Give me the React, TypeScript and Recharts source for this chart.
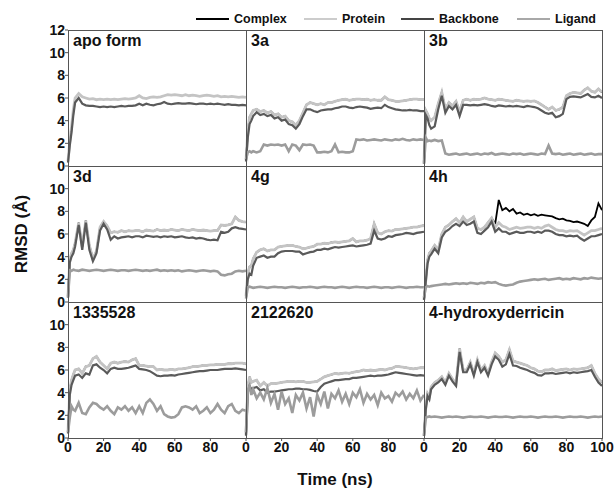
import { LineChart, Line, XAxis, YAxis } from 'recharts';

// sampling times (ns)
const time = [
  0, 1, 2, 3, 4, 6, 8, 10, 12, 14,
  16, 18, 20, 22, 24, 26, 28, 30, 32, 34,
  36, 38, 40, 42, 44, 46, 48, 50, 52, 54,
  56, 58, 60, 62, 64, 66, 68, 70, 72, 74,
  76, 78, 80, 82, 84, 86, 88, 90, 92, 94,
  96, 98, 100,
];

const xTicksShort = [0, 20, 40, 60, 80];
const xTicksLong = [0, 20, 40, 60, 80, 100];
const yTicksTop = [0, 2, 4, 6, 8, 10, 12];
const yTicks = [0, 2, 4, 6, 8, 10];

// apo form
const apoProtein = [
  0.4, 2.2, 3.5, 5.0, 6.0, 6.4, 6.1, 6.0, 5.9, 5.95,
  5.85, 5.9, 5.85, 5.9, 5.85, 5.9, 5.85, 5.9, 5.95, 5.9,
  5.95, 6.0, 6.2, 6.0, 5.95, 6.05, 6.1, 6.05, 6.1, 6.2,
  6.3, 6.25, 6.3, 6.25, 6.2, 6.3, 6.2, 6.25, 6.2, 6.15,
  6.2, 6.25, 6.2, 6.15, 6.2, 6.1, 6.15, 6.1, 6.15, 6.1,
  6.05, 6.1, 6.05,
];
const apoBackbone = [
  0.3, 1.8, 3.0, 4.5, 5.6, 6.0, 5.5, 5.35, 5.3, 5.3,
  5.25, 5.2, 5.25, 5.2, 5.25, 5.2, 5.25, 5.3, 5.25, 5.3,
  5.3, 5.35, 5.5, 5.35, 5.5, 5.4, 5.35, 5.45, 5.5, 5.65,
  5.5, 5.45, 5.5, 5.55, 5.5, 5.5, 5.55, 5.5, 5.45, 5.5,
  5.5, 5.45, 5.5, 5.45, 5.5, 5.45, 5.4, 5.45, 5.4, 5.4,
  5.35, 5.4, 5.35,
];

// 3a
const protein3a = [
  0.5, 3.0, 4.3, 4.6, 4.9, 5.0, 4.8, 4.9, 4.7, 4.8,
  4.5, 4.6, 4.3, 4.4, 4.0, 3.9, 3.6, 4.0, 4.7, 5.4,
  5.6, 5.5, 5.4, 5.5, 5.4, 5.6, 5.6, 5.7, 5.8, 5.85,
  5.9, 5.8, 5.85, 5.9, 5.9, 5.85, 5.9, 5.8, 5.85, 5.8,
  5.8, 6.1, 5.85, 5.8, 5.7, 5.7, 5.75, 5.8, 5.85, 5.9,
  5.9, 5.85, 5.85,
];
const backbone3a = [
  0.4, 2.5, 3.7, 4.0, 4.4, 4.75, 4.5, 4.6, 4.4, 4.5,
  4.2, 4.3, 4.0, 4.1, 3.7, 3.6, 3.3, 3.7, 4.4, 5.0,
  5.0, 4.85, 4.75, 4.9, 4.95, 5.0, 5.0, 5.1, 5.15, 5.25,
  5.25, 5.15, 5.1, 5.2, 5.25, 5.2, 5.15, 5.05, 5.1, 5.15,
  5.1, 5.4, 5.2, 5.1, 5.0, 4.95, 4.9, 4.9, 4.95, 4.9,
  4.9, 4.85, 4.85,
];
const complex3a = protein3a; // hidden under the protein trace
const ligand3a = [
  0.6, 1.2, 1.3, 1.2, 1.3, 1.2, 1.3, 1.9, 1.8, 1.9,
  1.85, 1.9, 1.8, 1.9, 1.3, 1.9, 1.8, 1.4, 1.9, 1.85,
  1.9, 1.8, 1.2, 1.2, 1.25, 1.2, 1.3, 1.9, 1.2, 1.25,
  1.2, 1.2, 1.3, 2.35, 2.3, 2.35, 2.25, 2.3, 2.35, 2.3,
  2.25, 2.35, 2.3, 2.25, 2.35, 2.3, 2.4, 2.3, 2.25, 2.35,
  2.3, 2.35, 2.3,
];

// 3b
const protein3b = [
  0.3, 4.9, 4.6, 4.2, 4.0, 4.3, 5.5, 6.5, 5.0, 5.6,
  5.3, 5.7, 4.8, 5.8, 5.9, 5.8, 5.9, 5.85, 5.9, 6.0,
  5.9, 5.85, 5.8, 5.9, 5.85, 5.8, 5.75, 5.7, 5.8, 5.75,
  5.7, 5.75, 5.7, 5.75, 5.6, 5.4, 5.2, 5.0, 5.2, 4.9,
  5.0, 5.2, 6.2, 6.4, 6.5, 6.45, 6.4, 6.7, 6.9, 6.6,
  6.5, 6.8, 6.5,
];
const backbone3b = [
  0.2, 4.5, 4.2, 3.6, 3.3, 3.5, 5.0, 6.2, 4.7, 5.3,
  5.0, 5.4, 4.4, 5.4, 5.4, 5.35, 5.4, 5.35, 5.4, 5.45,
  5.4, 5.3, 5.25, 5.35, 5.3, 5.25, 5.3, 5.25, 5.3, 5.25,
  5.2, 5.3, 5.25, 5.2, 5.1, 4.9, 4.7, 4.6, 4.7, 4.3,
  4.4, 4.6, 5.9, 6.1, 6.15, 6.1, 6.05, 6.2, 6.35, 6.1,
  6.05, 6.2, 6.0,
];
const complex3b = protein3b;
const ligand3b = [
  0.2, 2.5, 2.2, 2.25, 2.2, 2.3, 2.2, 2.25, 1.1, 1.0,
  1.05, 1.1, 1.0, 1.05, 1.1, 1.0, 1.05, 1.1, 1.0, 1.1,
  1.05, 1.15, 1.0, 1.05, 1.1, 1.05, 1.0, 1.1, 1.05, 1.1,
  1.0, 1.05, 1.1, 1.05, 1.0, 1.1, 1.05, 1.8, 1.1, 1.05,
  1.1, 1.0, 1.05, 1.1, 1.0, 1.05, 1.1, 1.0, 1.05, 1.1,
  1.0, 1.05, 1.05,
];

// 3d
const protein3d = [
  0.5, 3.7, 4.3, 4.6, 5.2, 7.0, 4.9, 7.2, 5.0, 3.8,
  4.5, 6.6, 7.1, 6.7, 6.1, 6.2, 6.15, 6.3, 6.2, 6.3,
  6.25, 6.3, 6.3, 6.2, 6.35, 6.3, 6.25, 6.4, 6.3, 6.35,
  6.3, 6.4, 6.35, 6.3, 6.4, 6.35, 6.3, 6.4, 6.35, 6.3,
  6.35, 6.3, 6.25, 6.3, 6.3, 6.8, 6.75, 6.8, 6.9, 7.5,
  7.2, 7.1, 7.05,
];
const backbone3d = [
  0.4, 3.5, 4.0, 4.3, 4.9, 6.8, 4.6, 7.0, 4.6, 3.6,
  4.3, 6.3, 6.9, 6.4, 5.5, 5.8, 5.6, 5.7, 5.75, 5.8,
  5.7, 5.8, 5.8, 5.7, 5.85, 5.8, 5.75, 5.8, 5.7, 5.8,
  5.75, 5.8, 5.7, 5.75, 5.8, 5.7, 5.65, 5.7, 5.6, 5.65,
  5.6, 5.5, 5.45, 5.5, 5.45, 6.2, 6.1, 6.2, 6.5, 6.6,
  6.5, 6.45, 6.4,
];
const complex3d = protein3d;
const ligand3d = [
  0.4, 2.8, 2.75, 2.85, 2.8, 2.75, 2.85, 2.8, 2.75, 2.8,
  2.85, 2.8, 2.75, 2.8, 2.85, 2.8, 2.75, 2.8, 2.8, 2.75,
  2.8, 2.85, 2.8, 2.75, 2.8, 2.75, 2.8, 2.85, 2.75, 2.8,
  2.75, 2.8, 2.75, 2.8, 2.7, 2.75, 2.8, 2.75, 2.7, 2.75,
  2.8, 2.75, 2.7, 2.75, 2.7, 2.4, 2.35, 2.45, 2.5, 2.7,
  2.75, 2.7, 2.75,
];

// 4g
const protein4g = [
  0.5, 2.5, 3.1, 3.2, 3.8, 4.4, 4.6, 4.7, 4.5, 4.6,
  4.6, 4.85, 4.9, 4.95, 5.0, 5.0, 4.9, 4.85, 4.7, 4.75,
  4.85, 4.9, 5.1, 5.1, 5.2, 5.15, 5.25, 5.3, 5.25, 5.3,
  5.35, 5.4, 5.6, 5.3, 5.4, 5.4, 5.45, 5.6, 6.9, 6.1,
  6.0, 6.2, 6.3, 6.25, 6.4, 6.4, 6.45, 6.5, 6.55, 6.6,
  6.6, 6.7, 6.75,
];
const backbone4g = [
  0.4, 2.0, 2.5, 2.4, 3.2, 3.9, 4.0, 4.1, 3.9, 4.0,
  4.0, 4.3, 4.45, 4.5, 4.5, 4.5, 4.45, 4.45, 4.2, 4.3,
  4.4, 4.45, 4.6, 4.6, 4.7, 4.65, 4.75, 4.85, 4.8, 4.85,
  4.9, 4.95, 5.0, 4.9, 4.95, 5.0, 5.05, 5.15, 6.3, 5.6,
  5.5, 5.6, 5.8, 5.75, 5.9, 5.95, 6.0, 6.1, 6.05, 6.0,
  6.1, 6.15, 6.2,
];
const complex4g = protein4g;
const ligand4g = [
  0.3, 1.3, 1.35, 1.3, 1.25, 1.3, 1.35, 1.3, 1.25, 1.3,
  1.35, 1.3, 1.3, 1.25, 1.3, 1.35, 1.3, 1.25, 1.3, 1.3,
  1.35, 1.3, 1.25, 1.3, 1.35, 1.3, 1.3, 1.25, 1.3, 1.35,
  1.3, 1.25, 1.3, 1.35, 1.3, 1.3, 1.25, 1.3, 1.35, 1.3,
  1.25, 1.3, 1.3, 1.25, 1.3, 1.35, 1.3, 1.25, 1.3, 1.3,
  1.35, 1.3, 1.3,
];

// 4h
const protein4h = [
  0.2, 1.9, 3.7, 4.3, 4.5, 5.0, 4.6, 6.0, 6.6, 6.8,
  7.1, 7.35, 7.0, 7.5, 7.1, 7.3, 7.5, 6.5, 6.4, 6.6,
  7.0, 7.4, 6.6, 7.0, 6.7, 6.6, 6.4, 6.5, 6.6, 6.5,
  6.55, 6.6, 6.6, 6.5, 6.6, 6.5, 6.7, 6.8, 6.6, 6.4,
  6.3, 6.3, 6.2, 6.3, 6.25, 6.3, 6.1, 5.9, 6.1, 6.3,
  6.3, 6.4, 6.5,
];
const backbone4h = [
  0.2, 1.8, 3.4, 4.0, 4.2, 4.7, 4.3, 5.7, 6.2, 6.4,
  6.7, 6.9, 6.7, 7.1, 6.8, 6.9, 7.1, 6.1, 6.0, 6.3,
  6.6, 7.1, 6.2, 6.5, 6.2, 6.2, 6.0, 6.1, 6.2, 6.1,
  6.1, 6.2, 6.2, 6.1, 6.2, 6.1, 6.3, 6.3, 6.2, 6.0,
  5.9, 5.9, 5.8, 5.85, 5.8, 5.85, 5.6, 5.4, 5.6, 5.8,
  5.8, 5.9, 6.0,
];
const complex4h = [
  0.2, 1.9, 3.7, 4.3, 4.5, 5.0, 4.6, 6.0, 6.6, 6.8,
  7.1, 7.35, 7.0, 7.5, 7.1, 7.3, 7.5, 6.5, 6.4, 6.6,
  7.0, 7.4, 6.9, 9.0, 8.1, 8.3, 8.0, 8.2, 7.8, 7.9,
  7.7, 7.8, 7.65, 7.75, 7.6, 7.7, 7.65, 7.6, 7.55, 7.4,
  7.3, 7.35, 7.2, 7.15, 7.05, 7.1, 7.0, 6.9, 6.7, 7.2,
  7.5, 8.7, 8.1,
];
const ligand4h = [
  0.4, 1.3, 1.4, 1.35, 1.4, 1.45, 1.5, 1.55, 1.6, 1.55,
  1.6, 1.65, 1.6, 1.65, 1.6, 1.7, 1.65, 1.6, 1.7, 1.65,
  1.75, 1.7, 1.75, 1.6, 1.5, 1.45, 1.5, 1.55, 1.7, 1.8,
  1.85, 1.9, 1.95, 2.0, 1.95, 2.0, 2.05, 1.95, 2.0, 2.05,
  2.1, 2.0, 2.05, 2.0, 2.1, 2.05, 2.0, 2.1, 2.05, 2.15,
  2.1, 2.05, 2.1,
];

// 1335528
const protein1335528 = [
  0.5, 4.2, 5.1, 5.6, 6.0, 6.1, 5.7, 6.3, 6.4, 7.0,
  7.2, 6.7, 6.4, 6.1, 6.6, 6.7, 6.6, 6.7, 6.75, 6.7,
  6.9, 7.0, 6.4, 6.4, 6.35, 6.3, 6.3, 6.0, 6.05, 6.0,
  6.0, 6.05, 6.0, 6.1, 6.1, 6.15, 6.2, 6.3, 6.3, 6.35,
  6.4, 6.4, 6.45, 6.45, 6.5, 6.5, 6.5, 6.55, 6.55, 6.6,
  6.6, 6.6, 6.55,
];
const backbone1335528 = [
  0.4, 3.8, 4.7, 5.1, 5.5, 5.6, 5.3, 5.7, 5.6, 6.4,
  6.5, 6.2, 6.0, 5.7, 6.1, 6.2, 6.1, 6.1, 6.15, 6.2,
  6.3, 6.4, 6.1, 6.05, 6.0, 5.9, 5.7, 5.5, 5.45, 5.5,
  5.5, 5.55, 5.5, 5.6, 5.65, 5.7, 5.75, 5.8, 5.85, 5.9,
  5.9, 5.95, 6.0, 6.0, 6.0, 6.05, 6.1, 6.1, 6.1, 6.15,
  6.1, 6.05, 6.0,
];
const complex1335528 = protein1335528;
const ligand1335528 = [
  0.5, 1.8, 2.8, 2.5, 2.4, 3.1, 2.2, 2.1, 2.7, 3.1,
  3.0, 2.7, 2.5, 2.8, 2.4, 2.1, 2.7, 2.5, 2.8, 2.4,
  2.7, 2.2, 2.8, 2.2, 3.1, 3.4, 3.0, 2.4, 2.8, 2.1,
  1.9, 1.8, 1.85, 2.1, 2.7, 2.8, 2.7, 2.5, 2.8, 2.2,
  2.4, 2.7, 2.2, 2.5, 3.0, 2.5, 2.2, 2.8, 3.0, 2.4,
  2.2, 2.5, 2.4,
];

// 2122620
const protein2122620 = [
  0.3, 4.5, 5.4, 4.9, 5.0, 5.1, 4.6, 4.9, 4.6, 4.8,
  4.8, 4.85, 4.9, 4.95, 5.0, 5.0, 4.95, 5.0, 5.0, 4.9,
  4.9, 4.95, 5.0, 5.2, 5.4, 5.5, 5.6, 5.7, 5.65, 5.7,
  5.75, 5.7, 5.8, 5.85, 5.9, 6.0, 5.95, 6.0, 5.95, 6.0,
  6.05, 6.0, 6.1, 6.15, 6.3, 6.3, 6.25, 6.2, 6.15, 6.1,
  6.15, 6.2, 6.2,
];
const backbone2122620 = [
  0.2, 4.0, 4.6, 4.3, 4.4, 4.5, 4.2, 4.3, 4.0, 4.1,
  4.1, 4.15, 4.2, 4.25, 4.3, 4.3, 4.35, 4.35, 4.3, 4.3,
  4.25, 4.15, 4.1, 4.5, 4.8, 4.9, 5.0, 5.1, 5.1, 5.15,
  5.2, 5.2, 5.3, 5.3, 5.35, 5.4, 5.45, 5.5, 5.45, 5.5,
  5.5, 5.55, 5.6, 5.7, 5.8, 5.75, 5.7, 5.65, 5.6, 5.55,
  5.5, 5.55, 5.5,
];
const complex2122620 = protein2122620;
const ligand2122620 = [
  0.5, 4.2, 4.6, 3.8, 4.3, 3.5, 4.0, 3.4, 4.4, 3.1,
  3.9, 2.5, 4.1, 3.0, 3.5, 2.2, 3.8, 3.3, 4.0, 2.6,
  3.6, 1.9, 3.8, 3.0, 4.1, 2.6, 3.9, 3.5, 4.2, 3.2,
  3.9, 3.0, 4.0, 3.6, 4.3, 3.1, 3.9, 3.4, 3.8, 2.9,
  4.0, 3.5, 3.7, 3.2, 4.0, 3.7, 4.1, 3.4, 3.9, 3.5,
  4.2, 3.3, 3.8,
];

// 4-hydroxyderricin
const protein4hd = [
  0.2, 2.7, 3.9, 3.6, 4.5, 4.9, 5.1, 5.4, 4.9, 5.7,
  5.2, 4.8, 7.9, 6.0, 6.0, 6.7, 5.7, 6.9, 6.0, 6.4,
  5.7, 6.7, 7.5, 7.2, 6.7, 6.9, 7.8, 6.8, 6.7, 6.6,
  6.5, 6.4, 6.2, 6.1, 5.9, 5.85, 6.0, 6.0, 6.1, 5.95,
  6.0, 6.05, 6.1, 6.0, 6.1, 6.05, 6.1, 6.15, 6.2, 6.4,
  5.7, 5.2, 4.9,
];
const backbone4hd = [
  0.2, 2.5, 3.7, 3.4, 4.3, 4.7, 4.9, 5.2, 4.7, 5.5,
  5.0, 4.6, 7.6, 5.8, 5.8, 6.5, 5.5, 6.7, 5.8, 6.2,
  5.5, 6.5, 7.2, 6.9, 6.3, 6.5, 7.4, 6.4, 6.35, 6.2,
  6.1, 6.0, 5.85, 5.75, 5.55, 5.5, 5.7, 5.7, 5.75, 5.65,
  5.7, 5.75, 5.8, 5.7, 5.8, 5.75, 5.8, 5.85, 5.9, 6.0,
  5.4, 4.9, 4.6,
];
const complex4hd = protein4hd;
const ligand4hd = [
  0.2, 1.8, 1.85, 1.9, 1.85, 1.9, 1.85, 1.8, 1.85, 1.9,
  1.85, 1.9, 1.85, 1.8, 1.85, 1.9, 1.85, 1.85, 1.9, 1.85,
  1.8, 1.85, 1.9, 1.85, 1.85, 1.9, 1.85, 1.8, 1.85, 1.9,
  1.85, 1.85, 1.9, 1.85, 1.8, 1.85, 1.9, 1.85, 1.85, 1.9,
  1.85, 1.8, 1.85, 1.9, 1.85, 1.85, 1.9, 1.85, 1.8, 1.85,
  1.9, 1.85, 1.9,
];

type PanelDef = {
  label: string;
  complex?: number[];
  protein: number[];
  backbone: number[];
  ligand?: number[];
};

const panels: PanelDef[] = [
  { label: 'apo form', protein: apoProtein, backbone: apoBackbone },
  { label: '3a', complex: complex3a, protein: protein3a, backbone: backbone3a, ligand: ligand3a },
  { label: '3b', complex: complex3b, protein: protein3b, backbone: backbone3b, ligand: ligand3b },
  { label: '3d', complex: complex3d, protein: protein3d, backbone: backbone3d, ligand: ligand3d },
  { label: '4g', complex: complex4g, protein: protein4g, backbone: backbone4g, ligand: ligand4g },
  { label: '4h', complex: complex4h, protein: protein4h, backbone: backbone4h, ligand: ligand4h },
  { label: '1335528', complex: complex1335528, protein: protein1335528, backbone: backbone1335528, ligand: ligand1335528 },
  { label: '2122620', complex: complex2122620, protein: protein2122620, backbone: backbone2122620, ligand: ligand2122620 },
  { label: '4-hydroxyderricin', complex: complex4hd, protein: protein4hd, backbone: backbone4hd, ligand: ligand4hd },
];

const FONT = '"Liberation Sans", Arial, Helvetica, sans-serif';
const COLORS = {
  complex: '#000000',
  protein: '#c4c4c4',
  backbone: '#5a5a5a',
  ligand: '#9c9c9c',
};

const X0 = 68;
const Y0 = 30;
const PW = 178;
const PH = 136;
// room around each plot so edge tick labels are not clipped
const PAD = { top: 8, right: 14, bottom: 8, left: 8 };

const tickStyle = { fontSize: 14, fontWeight: 700, fill: '#111', fontFamily: FONT };

function Panel({ p, row, col }: { p: PanelDef; row: number; col: number }) {
  const showY = col === 0;
  const showX = row === 2;
  const yw = showY ? 40 : 0;
  const xh = showX ? 24 : 0;
  const data = time.map((t, i) => ({
    t,
    complex: p.complex ? p.complex[i] : undefined,
    protein: p.protein[i],
    backbone: p.backbone[i],
    ligand: p.ligand ? p.ligand[i] : undefined,
  }));
  const plotLeft = PAD.left + yw;

  return (
    <div
      style={{
        position: 'absolute',
        left: X0 + col * PW - plotLeft,
        top: Y0 + row * PH - PAD.top,
      }}
    >
      <LineChart
        width={PW + yw + PAD.left + PAD.right}
        height={PH + xh + PAD.top + PAD.bottom}
        data={data}
        margin={PAD}
      >
        <XAxis
          dataKey="t"
          type="number"
          domain={[0, 100]}
          ticks={col === 2 ? xTicksLong : xTicksShort}
          interval={0}
          hide={!showX}
          height={xh}
          axisLine={false}
          tickSize={3}
          tickMargin={1}
          tickLine={{ stroke: '#555' }}
          tick={tickStyle}
        />
        <YAxis
          type="number"
          domain={[0, 12]}
          ticks={row === 0 ? yTicksTop : yTicks}
          interval={0}
          hide={!showY}
          width={yw}
          axisLine={false}
          tickSize={3}
          tickMargin={0}
          tickLine={{ stroke: '#555' }}
          tick={tickStyle}
        />
        {p.complex && (
          <Line dataKey="complex" stroke={COLORS.complex} strokeWidth={1.8} dot={false} isAnimationActive={false} />
        )}
        <Line dataKey="protein" stroke={COLORS.protein} strokeWidth={2.8} dot={false} isAnimationActive={false} />
        <Line dataKey="backbone" stroke={COLORS.backbone} strokeWidth={2.2} dot={false} isAnimationActive={false} />
        {p.ligand && (
          <Line dataKey="ligand" stroke={COLORS.ligand} strokeWidth={2.6} dot={false} isAnimationActive={false} />
        )}
      </LineChart>
      <div
        style={{
          position: 'absolute',
          left: plotLeft,
          top: PAD.top,
          width: PW + 1,
          height: PH + 1,
          border: '1px solid #555',
          boxSizing: 'border-box',
          pointerEvents: 'none',
        }}
      />
      <div
        style={{
          position: 'absolute',
          left: plotLeft + 5,
          top: PAD.top + 2,
          fontFamily: FONT,
          fontWeight: 700,
          fontSize: 16,
          lineHeight: '17px',
          color: '#111',
          whiteSpace: 'nowrap',
        }}
      >
        {p.label}
      </div>
    </div>
  );
}

const legendItems = [
  { name: 'Complex', color: '#000000', x: 196 },
  { name: 'Protein', color: '#cccccc', x: 304 },
  { name: 'Backbone', color: '#444444', x: 401 },
  { name: 'Ligand', color: '#a8a8a8', x: 517 },
];

export default function App() {
  return (
    <div
      style={{
        position: 'absolute',
        left: 0,
        top: 0,
        width: 614,
        height: 499,
        background: '#fff',
        fontFamily: FONT,
        overflow: 'hidden',
      }}
    >
      {legendItems.map((it) => (
        <div
          key={it.name}
          style={{ position: 'absolute', left: it.x, top: 11, height: 16, display: 'flex', alignItems: 'center' }}
        >
          <div style={{ width: 33, height: 2.5, background: it.color }} />
          <span style={{ marginLeft: 5, fontSize: 12.5, fontWeight: 700, color: '#111' }}>{it.name}</span>
        </div>
      ))}

      {panels.map((p, i) => (
        <Panel key={p.label} p={p} row={Math.floor(i / 3)} col={i % 3} />
      ))}

      <div
        style={{
          position: 'absolute',
          left: 22 - 60,
          top: 234 - 10,
          width: 120,
          height: 20,
          lineHeight: '20px',
          textAlign: 'center',
          transform: 'rotate(-90deg)',
          fontSize: 17,
          fontWeight: 700,
          color: '#111',
        }}
      >
        RMSD (Å)
      </div>
      <div
        style={{
          position: 'absolute',
          left: 235,
          top: 470,
          width: 200,
          height: 20,
          lineHeight: '20px',
          textAlign: 'center',
          fontSize: 17,
          fontWeight: 700,
          color: '#111',
        }}
      >
        Time (ns)
      </div>
    </div>
  );
}
